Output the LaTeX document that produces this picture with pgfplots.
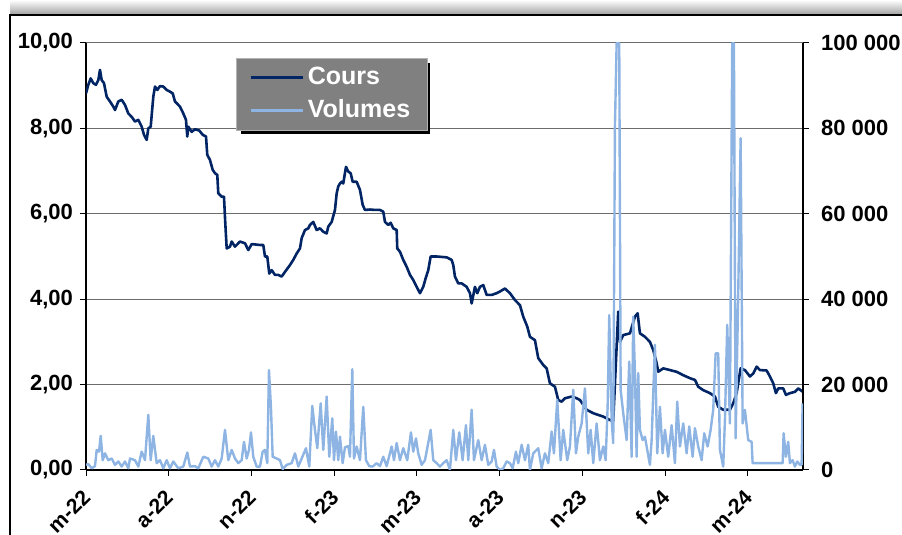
\documentclass[border=0pt]{standalone}
\usepackage{fontspec}
\setmainfont{Liberation Sans}
\usepackage{pgfplots}
\pgfplotsset{compat=1.18}
\definecolor{cours}{RGB}{0,36,100}
\definecolor{vol}{RGB}{141,180,226}
\definecolor{leggray}{RGB}{128,128,128}
\begin{document}
\begin{tikzpicture}
\useasboundingbox (0,0) rectangle (451pt,267.5pt);
\shade[top color=white, bottom color=gray!75] (5pt,260pt) rectangle (451pt,267.5pt);
\pgfplotsset{
  common/.style={
    at={(43pt,32.5pt)}, anchor=south west,
    scale only axis, width=358.5pt, height=213.5pt,
    xmin=0, xmax=26,
    x filter/.expression={(x-86)/27.58},
    tick align=outside, major tick length=3pt,
    tick style={black, line width=0.5pt},
    axis line style={black, line width=0.7pt},
    /pgf/number format/assume math mode=true,
    tick label style={font=\bfseries\fontsize{11}{13}\selectfont, black},
  }
}
\begin{axis}[common,
  ymin=0, ymax=10,
  axis y line*=left, axis x line*=bottom,
  xtick={0,3,...,24},
  xticklabels={m-22,a-22,n-22,f-23,m-23,a-23,n-23,f-24,m-24},
  xticklabel style={rotate=45, anchor=east, inner sep=1pt, xshift=-5pt, yshift=-6.5pt, font=\bfseries\fontsize{10.6}{12}\selectfont},
  ytick={0,2,...,10},
  yticklabel style={/pgf/number format/.cd, fixed, fixed zerofill, precision=2, use comma},
  ymajorgrids, grid style={gray!85!black, line width=0.5pt},
]
\addplot[cours, line width=1.3pt, line join=round] coordinates {
(86,8.82)(88.3,9.02)(90.7,9.17)(93.3,9.06)(96,9.02)(98.3,9.13)(100,9.37)(101.7,9.13)(104,9.06)(106.7,8.74)
(110,8.63)(113.3,8.51)(115,8.43)(118.3,8.63)(121.7,8.67)(125,8.55)(128.3,8.35)(131.7,8.27)(135,8.16)(138.3,8.2)
(141.7,8.04)(144,7.85)(146.7,7.73)(148.3,8.0)(150.7,8.04)(153.3,8.74)(155,8.98)(157.3,8.9)(160,8.99)(163.3,8.98)
(166.7,8.9)(170,8.86)(172.7,8.82)(175,8.63)(180,8.51)(183.3,8.35)(186,8.2)(187.3,7.81)(188.3,8.04)(191.7,7.92)
(195,7.98)(199.3,7.95)(202.7,7.85)(206,7.81)(207.3,7.38)(210,7.26)(212.7,7.03)(215,6.95)(217.3,6.91)(218.3,6.48)
(221.7,6.4)(224,6.4)(225.3,5.78)(226.7,5.19)(230,5.23)(231.7,5.35)(235,5.23)(240,5.35)(245,5.31)(248.3,5.15)
(251.7,5.29)(260,5.27)(263.3,5.27)(265,5.0)(267.3,5.0)(269.3,4.6)(271.7,4.68)(275,4.57)(278.3,4.57)(281.7,4.53)
(285,4.64)(290,4.8)(293.3,4.92)(296.7,5.07)(300,5.19)(301.7,5.43)(305,5.62)(308.3,5.66)(310,5.74)(313.3,5.81)
(316.7,5.62)(320,5.66)(323.3,5.58)(326.7,5.54)(328.3,5.7)(331.7,5.81)(335,6.09)(336.7,6.48)(338.3,6.64)(340,6.71)
(341.7,6.75)(343.3,6.71)(346,7.1)(348.3,6.99)(350.7,6.95)(352.7,6.75)(356.7,6.75)(360,6.56)(362.7,6.21)(365,6.09)
(370,6.1)(375,6.09)(380,6.09)(383.3,6.05)(385,5.81)(388.3,5.74)(390.7,5.79)(393.3,5.66)(396.7,5.62)(397.3,5.19)
(400,5.11)(403.3,4.92)(406.7,4.76)(410,4.57)(413.3,4.45)(416.7,4.29)(420,4.14)(423.3,4.29)(425.7,4.49)(428.3,4.68)
(430.7,5.0)(436.7,5.0)(446.7,4.98)(451.7,4.92)(453.3,4.8)(455,4.53)(458.3,4.37)(461.7,4.37)(466.7,4.29)(470,4.14)
(471.7,3.9)(475,4.29)(477.3,4.14)(480,4.29)(483.3,4.33)(486.7,4.1)(491.7,4.1)(496.7,4.14)(500,4.18)(505,4.25)
(510,4.14)(515,3.98)(520,3.86)(523.3,3.59)(527.3,3.36)(530,3.12)(535,3.04)(538.3,2.62)(543.3,2.46)(546.7,2.38)
(550,2.03)(555,1.95)(558.3,1.64)(561.7,1.6)(565,1.68)(571.7,1.72)(576.7,1.68)(580,1.64)(586.7,1.41)(593.3,1.33)
(603.3,1.25)(610,1.17)(613.3,1.15)(618.3,3.71)(620,3.0)(623.3,3.16)(630,3.2)(635,3.59)(637.7,3.67)(640,3.2)
(645,3.12)(650,3.0)(653.3,2.81)(656.7,2.5)(658.3,2.3)(663.3,2.38)(670,2.34)(676.7,2.3)(683.3,2.22)(690,2.15)
(695,2.11)(698.3,1.95)(703.3,1.87)(710,1.80)(715,1.72)(718.3,1.48)(723.3,1.41)(730,1.41)(733.3,1.56)(736.7,1.80)
(740.7,2.38)(745,2.34)(750,2.19)(753.3,2.26)(756.7,2.42)(760,2.34)(766.7,2.33)(770,2.19)(773.3,2.03)(776,1.80)
(778.3,1.91)(783.3,1.91)(786,1.76)(790,1.80)(795,1.83)(798.3,1.91)(803,1.83)
};
\end{axis}
% legend shadow
\fill[black] (120.5pt,236pt) rectangle (215pt,200.5pt);
\begin{axis}[common,
  ymin=0, ymax=100000,
  axis y line*=right, axis x line=none,
  ytick={0,20000,...,100000},
  scaled y ticks=false,
  yticklabel style={xshift=2.5pt, /pgf/number format/.cd, fixed, precision=0, 1000 sep={\ }},
  legend style={at={(0.209,0.965)}, anchor=north west, fill=leggray, draw=gray!60,
    text=white, font=\bfseries\fontsize{12.5}{14}\selectfont,
    inner xsep=6.5pt, inner ysep=2.5pt, row sep=2pt},
  legend cell align=left,
  legend image code/.code={\draw[#1] (0pt,0pt) -- (26pt,0pt);},
]
\addlegendimage{cours, line width=1.3pt}
\addlegendentry{Cours}
\addplot[vol, line width=1.2pt, line join=round] coordinates {
(86,1200)(88.3,1400)(91.7,400)(95,900)(96.7,4700)(99,4300)(100.7,8000)(102.7,2300)(105,3900)(108.3,2300)
(111.7,2700)(115,1200)(118.3,2000)(121.7,800)(125,2000)(128.3,400)(130,2700)(135,2300)(138.3,800)(141.7,4300)
(145,2300)(148.3,12900)(150.7,2300)(153.3,8000)(156.7,1600)(160,2300)(163.3,400)(166.7,2300)(170,400)(173.3,2000)
(178.3,400)(183.3,800)(187.3,4100)(190,800)(195,900)(198.3,400)(203.3,3100)(208.3,2700)(211.7,800)(215,2300)
(218.3,800)(221.7,2700)(225,9400)(228.3,2300)(231.7,4700)(235,2700)(238.3,1600)(241.7,2300)(244,6600)(246.7,2700)
(249,4700)(251,8800)(253.3,3100)(256.7,800)(260,800)(262.7,4300)(265,4700)(267.3,1600)(269,23400)(271,14500)
(272.7,3100)(276.7,2700)(280,2300)(282.7,200)(286.7,1200)(291.7,1600)(295,3900)(298.3,800)(301.7,2700)(306,5100)
(309.3,800)(312.3,15000)(315,9400)(317.3,5100)(320.7,15600)(323.3,4700)(326.7,17200)(329.3,3100)(332.3,12100)(334,2300)
(336,9000)(338.3,2300)(340,7800)(342.7,1600)(345,5300)(348.3,5600)(350,3100)(352.3,23600)(354,2700)(356.7,5500)
(360,2300)(363.3,14800)(366,2300)(369.3,900)(372.7,800)(376.7,1600)(380,900)(383.3,3100)(386.7,900)(391.7,5500)
(394,2300)(396.7,6300)(400,2300)(403.3,5100)(407.3,2300)(411,8800)(413.3,4300)(416,7400)(418.3,3900)(421.7,1200)
(425,2300)(427.3,5100)(430.7,9400)(433.3,2300)(436.7,1600)(440,800)(443.3,1600)(446.7,2300)(450,0)(453.3,9400)
(456,2300)(459.3,8800)(462.7,2300)(466,10500)(468.3,2300)(471.7,14100)(474,2300)(478.3,7000)(481.7,2300)(485,5900)
(488.3,1200)(491.7,2000)(494,4700)(496.7,800)(500,0)(503.3,400)(506.7,2000)(510,1600)(512.7,400)(516,4300)
(518.3,1600)(521.7,5900)(525,2300)(528.3,5900)(530,0)(533.3,3900)(538.3,5100)(541.7,400)(545,3900)(548.3,1600)
(551.7,9000)(554,3900)(557.3,16400)(560.7,2300)(563.3,9400)(567.3,2300)(570,5500)(573.3,18800)(576,3900)(578.3,7800)
(581.7,10900)(585,19100)(588.3,3900)(590.7,9400)(593.3,1600)(596.7,10900)(600,2300)(603.3,5500)(605.7,2300)(607.7,14800)
(609.3,36300)(611.7,11700)(613.3,6300)(615,80500)(616.7,100000)(619.3,100000)(620.7,18800)(623.3,13300)(626.7,7000)(629.3,25400)
(631.7,3100)(633.3,35900)(635,22700)(636.7,3100)(638.3,22700)(640,9400)(642.7,7000)(645,7800)(647.3,4700)(650,1200)
(651.7,7000)(655,29300)(657.3,3900)(660,14800)(662.7,3900)(665,9400)(668.3,3100)(671.7,10500)(675,1600)(677.3,16000)
(680,5500)(683.3,10900)(686.7,3900)(689.3,10200)(692.7,3100)(695,9800)(698.3,5500)(701.7,2300)(704.3,8600)(707.7,5500)
(710.7,9400)(713.3,14100)(715.7,27300)(718.3,27300)(720,4700)(723.3,800)(725,11700)(727.3,34000)(730,10900)(732.3,100000)
(734,100000)(735.7,7400)(738.3,41400)(740.7,77700)(742.7,10900)(745,14100)(748.3,7000)(751.7,6600)(752.7,1600)(782.7,1600)
(783.7,8600)(786,3100)(788.3,6600)(790,1600)(792.7,2300)(795,800)(797.3,2000)(800,1200)(801.7,1200)(802.7,15600)
};
\addlegendentry{Volumes}
\end{axis}
\draw[black, line width=1.2pt] (5pt,0pt) -- (5pt,260pt) -- (451pt,260pt);
\end{tikzpicture}
\end{document}
